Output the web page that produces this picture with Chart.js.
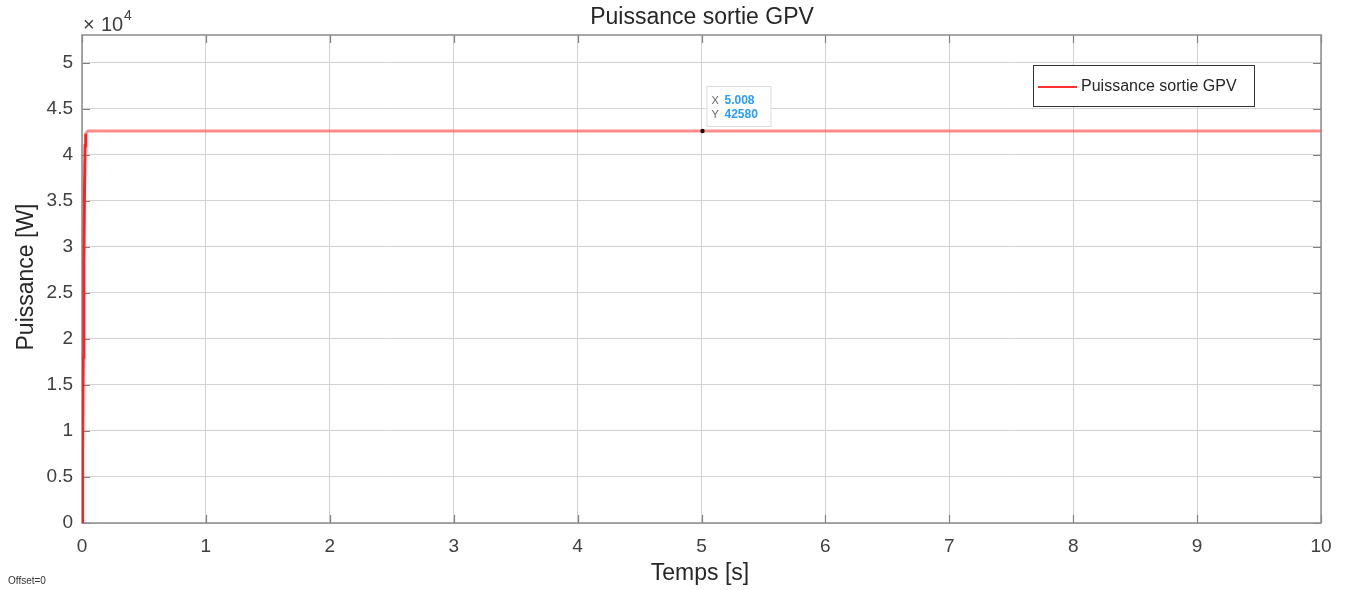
<!DOCTYPE html>
<html><head><meta charset="utf-8">
<script src="https://cdn.jsdelivr.net/npm/chart.js@4.4.1/dist/chart.umd.min.js"></script>
<style>html,body{margin:0;padding:0;background:#fff;}canvas{display:block;}</style>
</head><body>
<canvas id="c" width="1346" height="590"></canvas>
<script>
// Data
const timeS = [0, 0.005, 0.01, 0.015, 0.02, 0.025, 0.03, 0.05, 1, 2, 3, 4, 5, 5.008, 6, 7, 8, 9, 10];
const powerW = [0, 8000, 18000, 28000, 36000, 41000, 42300, 42580, 42580, 42580, 42580, 42580, 42580, 42580, 42580, 42580, 42580, 42580, 42580];
const xTicks = [0,1,2,3,4,5,6,7,8,9,10];
const yTicks = [0,5000,10000,15000,20000,25000,30000,35000,40000,45000,50000];
const seriesName = 'Puissance sortie GPV';
const chartTitle = 'Puissance sortie GPV';
const xLabel = 'Temps [s]';
const yLabel = 'Puissance [W]';
const tipX = 5.008, tipY = 42580;

const FONT = 'Liberation Sans, Arial, sans-serif';
const TXT = '#262626';

const deco = {
  id: 'deco',
  beforeDatasetsDraw(chart) {
    const {ctx, chartArea: a} = chart;
    ctx.save();
    ctx.strokeStyle = '#808080';
    ctx.lineWidth = 1.2;
    const xs = chart.scales.x, ys = chart.scales.y;
    const L = 8;
    ctx.beginPath();
    xTicks.forEach(v => { const px = Math.round(xs.getPixelForValue(v)) + 0.5;
      ctx.moveTo(px, a.bottom); ctx.lineTo(px, a.bottom - L);
      ctx.moveTo(px, a.top); ctx.lineTo(px, a.top + L); });
    yTicks.forEach(v => { const py = Math.round(ys.getPixelForValue(v)) + 0.5;
      ctx.moveTo(a.left, py); ctx.lineTo(a.left + L, py);
      ctx.moveTo(a.right, py); ctx.lineTo(a.right - L, py); });
    ctx.stroke();
    ctx.strokeStyle = '#8c8c8c';
    ctx.lineWidth = 1.5;
    ctx.strokeRect(a.left, a.top, a.right - a.left, a.bottom - a.top);
    ctx.restore();
  },
  afterDraw(chart) {
    const {ctx, chartArea: a} = chart;
    const xs = chart.scales.x, ys = chart.scales.y;
    ctx.save();
    // title
    ctx.fillStyle = TXT;
    ctx.font = '23px ' + FONT;
    ctx.textAlign = 'center'; ctx.textBaseline = 'middle';
    ctx.fillText(chartTitle, 702, 18);
    // x label
    ctx.font = '23px ' + FONT;
    ctx.fillText(xLabel, 700, 574);
    // y label
    ctx.save();
    ctx.translate(27, 277);
    ctx.rotate(-Math.PI / 2);
    ctx.fillText(yLabel, 0, 0);
    ctx.restore();
    // exponent
    ctx.fillStyle = '#404040';
    ctx.textAlign = 'left'; ctx.textBaseline = 'alphabetic';
    ctx.font = '20px ' + FONT;
    ctx.fillText('\u00d7', 83, 31);
    ctx.fillText('10', 101, 31);
    ctx.font = '14px ' + FONT;
    ctx.fillText('4', 124, 20);
    // offset text
    ctx.fillStyle = '#333';
    ctx.font = '10px ' + FONT;
    ctx.fillText('Offset=0', 8, 584);
    // legend
    const lx = 1033, ly = 65, lw = 221, lh = 41;
    ctx.fillStyle = '#fff';
    ctx.fillRect(lx, ly, lw, lh);
    ctx.strokeStyle = '#333';
    ctx.lineWidth = 1;
    ctx.strokeRect(lx + 0.5, ly + 0.5, lw, lh);
    ctx.strokeStyle = '#ff3030'; ctx.lineWidth = 2;
    ctx.beginPath(); ctx.moveTo(1038, 87); ctx.lineTo(1077, 87); ctx.stroke();
    ctx.fillStyle = TXT;
    ctx.font = '16px ' + FONT;
    ctx.textBaseline = 'middle';
    ctx.fillText(seriesName, 1081, 87);
    // data tip
    const px = xs.getPixelForValue(tipX), py = ys.getPixelForValue(tipY);
    ctx.fillStyle = '#111';
    ctx.beginPath(); ctx.arc(px, py, 2.2, 0, Math.PI * 2); ctx.fill();
    const bx = px + 4, by = py - 45, bw = 64, bh = 40;
    ctx.fillStyle = 'rgba(255,255,255,0.95)';
    ctx.fillRect(bx, by, bw, bh);
    ctx.strokeStyle = '#dcdcdc'; ctx.lineWidth = 1;
    ctx.strokeRect(bx + 0.5, by + 0.5, bw, bh);
    ctx.font = '11px ' + FONT;
    ctx.fillStyle = '#666';
    ctx.fillText('X', bx + 5, by + 15);
    ctx.fillText('Y', bx + 5, by + 29);
    ctx.font = 'bold 12px ' + FONT;
    ctx.fillStyle = '#2a9dff';
    ctx.fillText(tipX.toFixed(3), bx + 18, by + 15);
    ctx.fillText(String(tipY), bx + 18, by + 29);
    ctx.restore();
  }
};

new Chart(document.getElementById('c'), {
  type: 'line',
  data: {
    datasets: [{
      label: seriesName,
      data: timeS.map((t, i) => ({x: t, y: powerW[i]})),
      borderColor: 'rgba(255,90,90,0.7)',
      segment: {
        borderColor: ctx => ctx.p0.parsed.y < 42000 ? '#ff2020' : 'rgba(255,90,90,0.7)'
      },
      borderWidth: 3,
      pointRadius: 0,
      tension: 0,
      fill: false
    }]
  },
  options: {
    responsive: false,
    animation: false,
    layout: {padding: {top: 35, right: 25, left: 0, bottom: 0}},
    plugins: {legend: {display: false}, tooltip: {enabled: false}, title: {display: false}},
    scales: {
      x: {
        type: 'linear', min: 0, max: 10,
        afterFit(s) { s.height = 67; },
        afterBuildTicks(s) { s.ticks = xTicks.map(v => ({value: v})); },
        grid: {color: '#d2d2d2', lineWidth: 1, drawTicks: false},
        border: {display: false},
        ticks: {padding: 12, color: '#404040', font: {size: 19, family: FONT}, maxRotation: 0, autoSkip: false,
                callback: v => String(v)}
      },
      y: {
        type: 'linear', min: 0, max: 53000,
        afterFit(s) { s.width = 82; },
        afterBuildTicks(s) { s.ticks = yTicks.map(v => ({value: v})); },
        grid: {color: '#d2d2d2', lineWidth: 1, drawTicks: false},
        border: {display: false},
        ticks: {padding: 9, color: '#404040', font: {size: 19, family: FONT}, autoSkip: false,
                callback: v => String(v / 10000)}
      }
    }
  },
  plugins: [deco]
});
</script>
</body></html>
